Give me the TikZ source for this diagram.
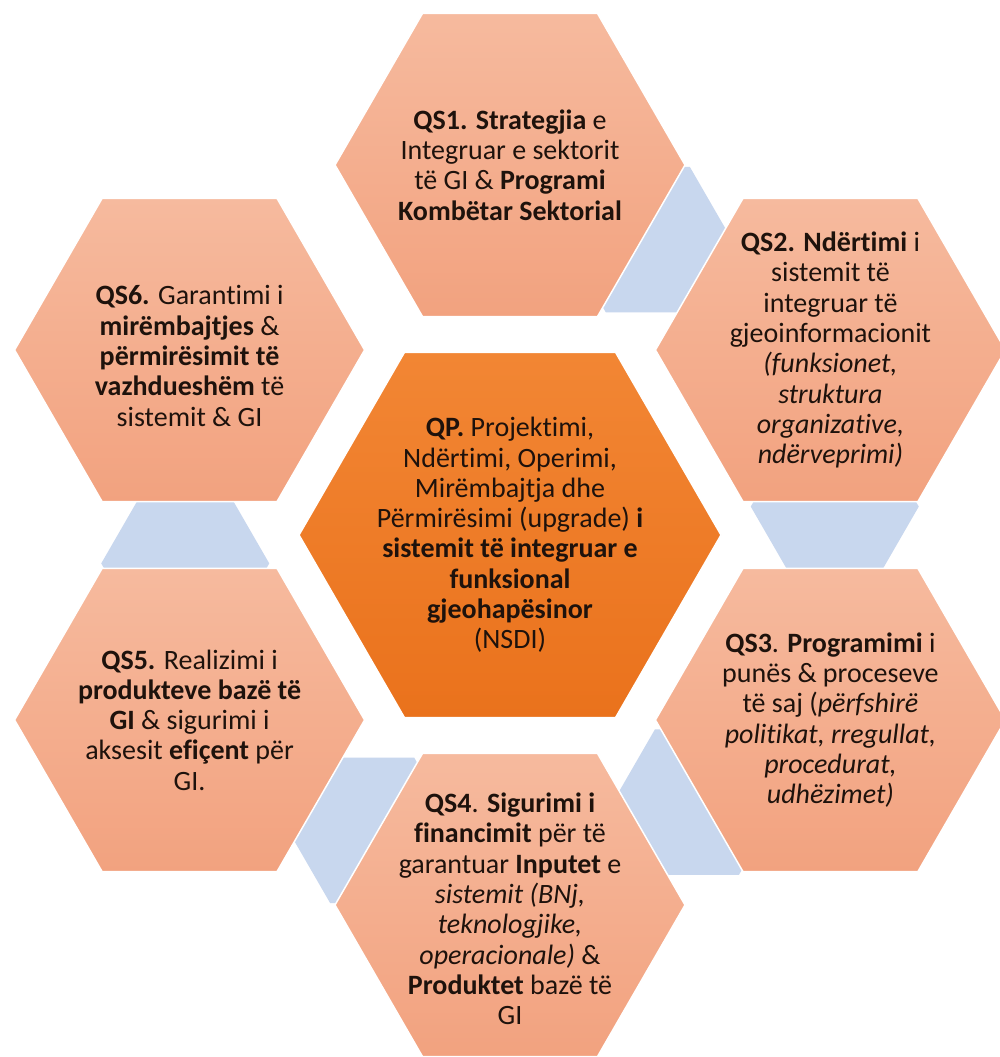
\documentclass[tikz,border=0pt]{standalone}
\usepackage{fontspec}
\setmainfont{Carlito}[Ligatures=NoCommon]
\usetikzlibrary{calc}
\definecolor{peachtop}{HTML}{F6BA9E}
\definecolor{peachbot}{HTML}{F2A27F}
\definecolor{orangetop}{HTML}{F28634}
\definecolor{orangebot}{HTML}{EA721C}
\definecolor{linkblue}{HTML}{C8D7EE}
\definecolor{txt}{HTML}{1E120C}
\begin{document}
\begin{tikzpicture}[x=1pt,y=1pt,
  outerhex/.style={top color=peachtop,bottom color=peachbot,draw=white,line width=1.5pt},
  centerhex/.style={top color=orangetop,bottom color=orangebot,draw=white,line width=1.5pt},
  linkhex/.style={fill=linkblue},
  hextext/.style={align=center,text=txt,font=\fontsize{28}{30.3}\selectfont,inner sep=0pt}
]
\useasboundingbox (0,0) rectangle (1000,1057);
\clip (0,0) rectangle (1000,1057);
\fill[white] (0,0) rectangle (1000,1057);
\coordinate (C) at (510,522);
% light blue link hexagons behind
\foreach \a/\n in {65/l12,5/l23,-55/l34,-115/l45,-175/l56}{
  \coordinate (\n) at ($(C)+(\a:326)$);
  \fill[linkhex,shift={(\n)}] (0:84) -- (60:84) -- (120:84) -- (180:84) -- (240:84) -- (300:84) -- cycle;
}
% outer hexagons
\foreach \a/\n in {90/qs1,30/qs2,-30/qs3,-90/qs4,-150/qs5,150/qs6}{
  \coordinate (\n) at ($(C)+(\a:370)$);
  \path[outerhex,shift={(\n)}] (0:175) -- (60:175) -- (120:175) -- (180:175) -- (240:175) -- (300:175) -- cycle;
}
% central hexagon
\path[centerhex,shift={(C)}] (0:211) -- (60:211) -- (120:211) -- (180:211) -- (240:211) -- (300:211) -- cycle;
% texts
\node[hextext] (t1) at (qs1) {\textbf{QS1. Strategjia} e\\Integruar e sektorit\\të GI \& \textbf{Programi}\\\textbf{Kombëtar Sektorial}};
\node[hextext] (t2) at (qs2) {\textbf{QS2. Ndërtimi} i\\sistemit të\\integruar të\\gjeoinformacionit\\\textit{(funksionet,}\\\textit{struktura}\\\textit{organizative,}\\\textit{ndërveprimi)}};
\node[hextext] (t3) at (qs3) {\textbf{QS3}. \textbf{Programimi} i\\punës \& proceseve\\të saj (\textit{përfshirë}\\\textit{politikat, rregullat,}\\\textit{procedurat,}\\\textit{udhëzimet)}};
\node[hextext] (t4) at ($(qs4)+(0,-4)$) {\textbf{QS4}. \textbf{Sigurimi i}\\\textbf{financimit} për të\\garantuar \textbf{Inputet} e\\\textit{sistemit (BNj,}\\\textit{teknologjike,}\\\textit{operacionale)} \&\\\textbf{Produktet} bazë të\\GI};
\node[hextext] (t5) at (qs5) {\textbf{QS5.} Realizimi i\\\textbf{produkteve bazë të}\\\textbf{GI} \& sigurimi i\\aksesit \textbf{efiçent} për\\GI.};
\node[hextext] (t6) at ($(qs6)+(0,-6)$) {\textbf{QS6.} Garantimi i\\\textbf{mirëmbajtjes} \&\\\textbf{përmirësimit të}\\\textbf{vazhdueshëm} të\\sistemit \& GI};
\node[hextext] (tq) at (C) {\textbf{QP.} Projektimi,\\Ndërtimi, Operimi,\\Mirëmbajtja dhe\\Përmirësimi (upgrade) \textbf{i}\\\textbf{sistemit të integruar e}\\\textbf{funksional}\\\textbf{gjeohapësinor}\\(NSDI)};
\end{tikzpicture}
\end{document}
